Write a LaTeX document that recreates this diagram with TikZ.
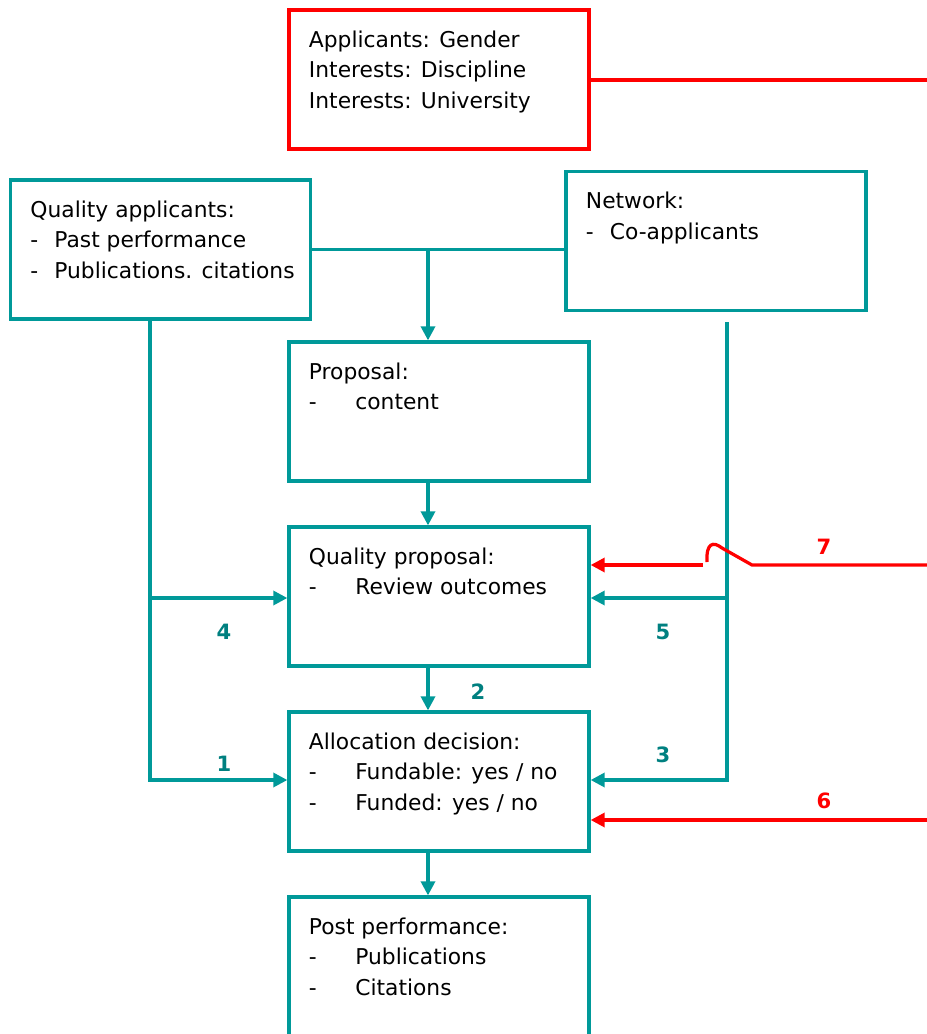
\documentclass[tikz,border=0pt]{standalone}
\usepackage{fontspec}
\setmainfont{DejaVu Sans}
\usetikzlibrary{calc,arrows.meta}

\definecolor{teal1}{RGB}{0,153,153}
\definecolor{teal2}{RGB}{0,128,128}
\definecolor{red1}{RGB}{255,0,0}

\newcommand{\btext}[1]{\parbox[c][2.45cm][t]{6.5cm}{\raggedright #1}}
\newcommand{\dsh}[1]{\makebox[#1][l]{-}}

\tikzset{
  tbox/.style={draw=teal1,line width=2.3pt,inner xsep=0.5cm,inner ysep=0.5cm,
    minimum width=7.5cm,minimum height=3.475cm,
    font=\fontsize{15.5}{22}\selectfont},
  rbox/.style={tbox,draw=red1},
  tline/.style={draw=teal1,line width=2.3pt},
  tarr/.style={tline,-{Triangle[length=10pt,width=10pt]}},
  rline/.style={draw=red1,line width=2.3pt},
  rarr/.style={rline,-{Triangle[length=10pt,width=10pt]}},
  tlab/.style={text=teal2,font=\bfseries\fontsize{15}{18}\selectfont},
  rlab/.style={text=red1,font=\bfseries\fontsize{15}{18}\selectfont}
}

\begin{document}
\begin{tikzpicture}[x=0.025cm,y=-0.025cm]
  \clip (0,0) rectangle (927,1034);

  \draw (439,79.5) node[rbox] (appl) {\btext{Applicants: Gender\\Interests: Discipline\\Interests: University}};
  \draw (160.5,249.5) node[tbox] (qual) {\btext{Quality applicants:\\\dsh{17pt}Past performance\\\mbox{\dsh{17pt}Publications. citations}}};
  \draw (716,241) node[tbox] (net) {\btext{Network:\\\dsh{17pt}Co-applicants}};
  \draw (439,411.5) node[tbox] (prop) {\btext{Proposal:\\\dsh{33pt}content}};
  \draw (439,596.5) node[tbox] (qprop) {\btext{Quality proposal:\\\dsh{33pt}Review outcomes}};
  \draw (439,781.5) node[tbox] (alloc) {\btext{Allocation decision:\\\dsh{33pt}Fundable: yes / no\\\dsh{33pt}Funded: yes / no}};
  \draw (439,966.5) node[tbox] (post) {\btext{Post performance:\\\dsh{33pt}Publications\\\dsh{33pt}Citations}};

  \coordinate (jn) at (428,249);
  \coordinate (lt) at (150,598);
  \coordinate (lb) at (150,780);
  \coordinate (rt) at (727,598);
  \coordinate (rb) at (727,780);
  \coordinate (r7) at (930,565);
  \coordinate (r6) at (930,820);
  \coordinate (ra) at (930,80);

  % teal flows
  \draw[tline] (qual.east) -- (qual.east -| net.west);
  \draw[tarr] (jn) -- (jn |- prop.north);
  \draw[tarr] (prop.south -| jn) -- (qprop.north -| jn);
  \draw[tarr] (qprop.south -| jn) -- (alloc.north -| jn);
  \draw[tarr] (alloc.south -| jn) -- (post.north -| jn);

  \draw[tarr] (qual.south -| lb) -- (lb) -- (lb -| alloc.west);
  \draw[tarr] (lt) -- (lt -| qprop.west);
  \draw[tarr] ($(net.south -| rb)+(0,10)$) -- (rb) -- (rb -| alloc.east);
  \draw[tarr] (rt) -- (rt -| qprop.east);

  % red flows
  \draw[rline] (appl.east |- ra) -- (ra);
  \draw[rline] (r7) -- (752,565) -- (722,548) .. controls (713,541) and (706,543) .. (707,562);
  \draw[rarr] (703,565) -- (r7 -| qprop.east);
  \draw[rarr] (r6) -- (r6 -| alloc.east);

  \node[tlab] (l1) at (224,764) {1};
  \node[tlab] (l2) at (478,692) {2};
  \node[tlab] (l3) at (663,755) {3};
  \node[tlab] (l4) at (224,632) {4};
  \node[tlab] (l5) at (663,632) {5};
  \node[rlab] (l6) at (824,801) {6};
  \node[rlab] (l7) at (824,547) {7};
\end{tikzpicture}
\end{document}
